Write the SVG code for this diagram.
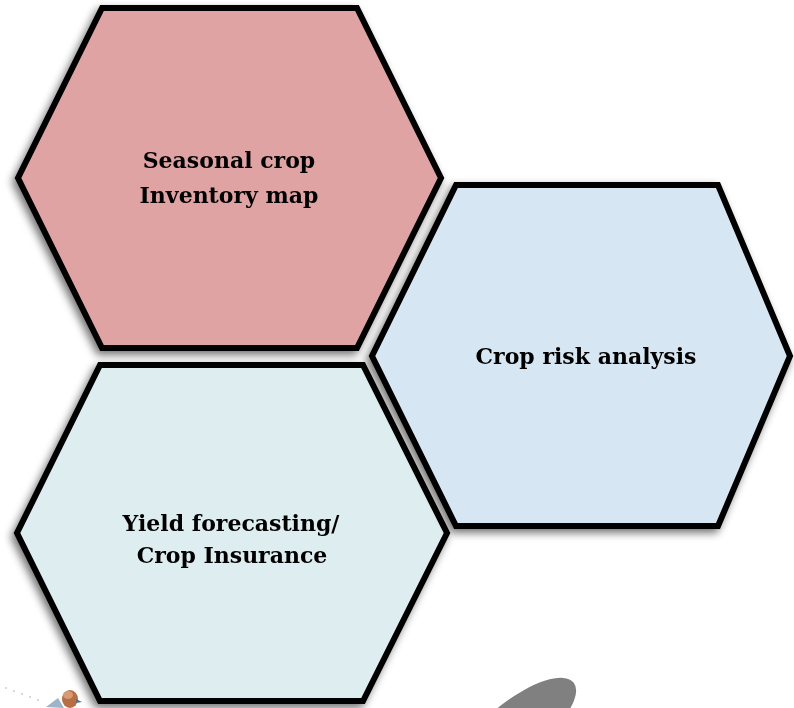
<svg xmlns="http://www.w3.org/2000/svg" width="794" height="708" viewBox="0 0 794 708">
  <defs>
    <filter id="shade" x="-10%" y="-10%" width="120%" height="120%">
      <feGaussianBlur in="SourceAlpha" stdDeviation="4"/>
      <feOffset dx="-3" dy="4" result="b"/>
      <feComponentTransfer><feFuncA type="linear" slope="0.55"/></feComponentTransfer>
      <feMerge><feMergeNode/><feMergeNode in="SourceGraphic"/></feMerge>
    </filter>
  </defs>
  <style>
    .hex { stroke: #000; stroke-width: 6; stroke-linejoin: miter; }
    .lbl { font-family: "DejaVu Serif", "Liberation Serif", serif; font-weight: bold; font-size: 22px; fill: #000; text-anchor: middle; }
  </style>
  <rect width="794" height="708" fill="#fff"/>

  <!-- soft grey ellipse at the lower edge -->
  <ellipse cx="517" cy="727" rx="72" ry="27" transform="rotate(-38 517 727)" fill="#808080"/>

  <!-- small bird clip art, lower left -->
  <g id="bird">
    <circle cx="6" cy="688" r="1" fill="#c9ccd6"/>
    <circle cx="14" cy="691" r="1" fill="#c9ccd6"/>
    <circle cx="22" cy="694" r="1" fill="#c9ccd6"/>
    <circle cx="30" cy="697" r="1" fill="#c9ccd6"/>
    <circle cx="38" cy="700" r="1" fill="#c9ccd6"/>
    <path d="M46 707 L58 698 L64 708 Z" fill="#9fb4c8"/>
    <ellipse cx="70" cy="699" rx="8" ry="9" fill="#b86e45"/>
    <ellipse cx="68" cy="695" rx="5" ry="4" fill="#d79a74"/>
    <path d="M76 699 L82 702 L76 703 Z" fill="#5a6f86"/>
  </g>

  <g id="yield" filter="url(#shade)">
    <polygon class="hex" points="100,365 363,365 447,533 363,701 100,701 17,533" fill="#DEEDF0"/>
    <text class="lbl" x="231" y="531">Yield forecasting/</text>
    <text class="lbl" x="232" y="563">Crop Insurance</text>
  </g>

  <g id="inventory" filter="url(#shade)">
    <polygon class="hex" points="102,8 357,8 441,178 357,348 102,348 18,178" fill="#E0A3A4"/>
    <text class="lbl" x="229" y="168">Seasonal crop</text>
    <text class="lbl" x="229" y="203">Inventory map</text>
  </g>

  <g id="risk" filter="url(#shade)">
    <polygon class="hex" points="456,185 718,185 790,356 718,526 456,526 372,356" fill="#D7E6F3"/>
    <text class="lbl" x="586" y="364">Crop risk analysis</text>
  </g>
</svg>
